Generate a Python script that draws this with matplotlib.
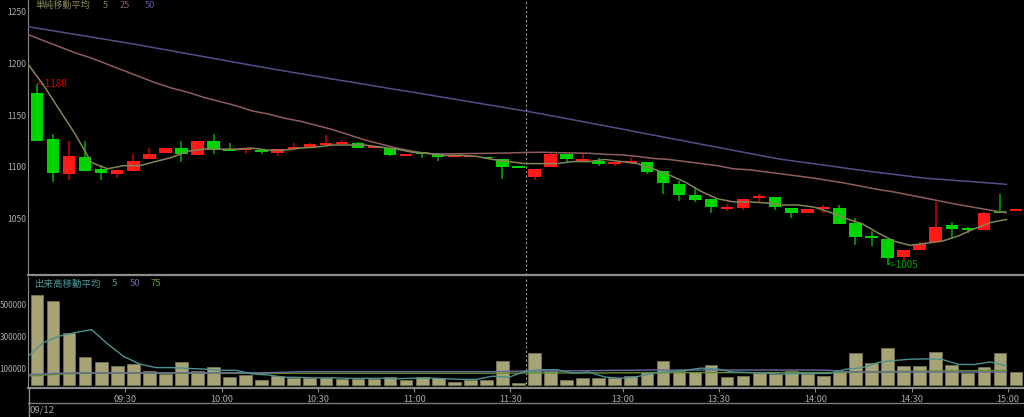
import matplotlib.pyplot as plt
from matplotlib.lines import Line2D
import numpy as np

plt.rcParams['font.family'] = ['Liberation Sans Narrow', 'Noto Sans CJK JP', 'DejaVu Sans']

# 5-minute bars, 09:00-11:30 then 12:30-15:00 (index positions)
opens = [1171, 1127, 1093, 1109, 1098, 1093, 1096, 1107, 1113, 1118,
         1111, 1125, 1117, 1116, 1116, 1113, 1117, 1119, 1121, 1122,
         1123, 1118, 1118, 1110, 1114, 1112, 1109, 1109, 1109, 1107,
         1099.5, 1090, 1100, 1112, 1106, 1106, 1103, 1104, 1105, 1096,
         1083, 1073, 1069, 1059, 1060, 1070, 1071, 1060, 1055, 1059,
         1060, 1046, 1033, 1030, 1013, 1019, 1027, 1044, 1039, 1039,
         1056, 1057.5]
highs = [1180, 1132, 1125, 1125, 1102, 1097, 1112, 1118, 1118, 1125,
         1125, 1132, 1123, 1118, 1117, 1117, 1123, 1123, 1131, 1126,
         1124, 1119, 1118, 1112, 1114, 1112, 1110, 1110, 1109, 1107,
         1099.5, 1098, 1113, 1112, 1112, 1108, 1104, 1108, 1105, 1096,
         1086, 1080, 1069, 1064, 1069, 1074, 1071, 1060, 1059, 1063,
         1063, 1050, 1038, 1030, 1019, 1027, 1066, 1047, 1042, 1056,
         1074, 1058]
lows = [1125, 1085, 1087, 1096, 1087, 1089, 1096, 1107, 1113, 1105,
        1111, 1112, 1115, 1112, 1112, 1110, 1117, 1119, 1121, 1121,
        1118, 1118, 1110, 1110, 1108, 1106, 1109, 1109, 1107, 1088,
        1099, 1087, 1100, 1105, 1106, 1101, 1101, 1104, 1093, 1074,
        1067, 1066, 1055, 1057, 1058, 1066, 1058, 1050, 1055, 1055,
        1045, 1024, 1023, 1005, 1009, 1019, 1027, 1031, 1036, 1039,
        1055, 1057.5]
closes = [1125, 1094, 1110, 1096, 1094, 1097, 1106, 1112, 1118, 1112,
          1125, 1116, 1115, 1118, 1114, 1117, 1118, 1122, 1123, 1123,
          1118, 1119, 1111, 1112, 1112, 1109, 1110, 1110, 1108, 1100,
          1099, 1098, 1112, 1107, 1107, 1103, 1104, 1105, 1095, 1084,
          1073, 1068, 1061, 1060, 1069, 1072, 1061, 1055, 1059, 1060,
          1045, 1032, 1031, 1012, 1019, 1025, 1042, 1040, 1038.5, 1055,
          1055.5, 1058]

ma5 = [1200, 1179, 1155, 1131, 1104, 1098, 1101, 1101, 1105, 1109,
       1115, 1117, 1117, 1117, 1118, 1116, 1116, 1118, 1119, 1121,
       1121, 1121, 1119, 1117, 1114, 1113, 1111, 1111, 1110, 1107,
       1105, 1103, 1103, 1103, 1105, 1105, 1107, 1105, 1103, 1098,
       1092, 1085, 1076, 1069, 1066, 1066, 1065, 1063, 1063, 1061,
       1056, 1050, 1045, 1036, 1028, 1024, 1026, 1028, 1033, 1040,
       1046, 1049]
ma25 = [1228, 1222, 1216, 1210, 1205, 1199, 1193, 1187, 1181, 1176,
        1172, 1167, 1163, 1159, 1154, 1151, 1147, 1144, 1140, 1136,
        1131, 1126, 1122, 1118, 1115, 1112.5, 1112.4, 1112.6, 1112.8, 1113,
        1113.3, 1113.8, 1114, 1113.6, 1113.3, 1113, 1112, 1111.5, 1110, 1108,
        1107, 1105, 1103, 1101, 1098, 1097, 1095, 1093, 1091, 1089,
        1086.5, 1084, 1081, 1078, 1075.6, 1072.5, 1069.5, 1066.4, 1063.3, 1060.7,
        1058, 1055.5]
ma50 = [1235.5, 1233, 1230.4, 1227.9, 1225.4, 1222.8, 1220.3, 1217.6, 1214.8, 1212,
        1209.2, 1206.4, 1203.6, 1200.8, 1198, 1195.3, 1192.6, 1190, 1187.4, 1184.8,
        1182.3, 1179.7, 1177.1, 1174.5, 1172.1, 1169.5, 1166.9, 1164.3, 1161.7, 1159.1,
        1156.5, 1153.9, 1151.2, 1148.3, 1145.4, 1142.4, 1139.5, 1136.6, 1133.5, 1130.6,
        1127.6, 1124.7, 1121.7, 1118.8, 1115.8, 1112.9, 1109.9, 1107.1, 1105, 1102.9,
        1100.8, 1098.6, 1096.5, 1094.5, 1092.6, 1090.7, 1088.8, 1087.7, 1086.5, 1085.4,
        1084.2, 1083]

volume = [558, 517, 319, 173, 138, 115, 127, 84, 63, 138,
          86, 107, 48, 59, 28, 53, 38, 42, 42, 34,
          36, 34, 48, 28, 48, 42, 14, 28, 26, 148,
          7, 194, 84, 28, 40, 40, 38, 50, 76, 148,
          86, 80, 121, 45, 53, 73, 63, 86, 63, 55,
          76, 194, 132, 227, 115, 115, 204, 119, 73, 110,
          194, 80]  # thousands
vma5 = [171, 261, 301, 323, 341, 252, 174, 127, 105, 105,
        100, 96, 88, 88, 66, 59, 45, 44, 41, 42,
        38, 38, 39, 36, 39, 40, 36, 32, 32, 52,
        45, 81, 92, 92, 71, 77, 46, 39, 49, 70,
        80, 88, 102, 96, 77, 74, 71, 64, 68, 68,
        69, 95, 104, 137, 149, 157, 159, 156, 125, 124,
        140, 115]
vma50 = [62, 66, 70, 73, 73, 73, 73, 73, 73, 73,
         73, 73, 73, 73, 73, 74, 76, 80, 80, 80,
         80, 80, 80, 80, 80, 80, 80, 80, 80, 80,
         82, 84, 84, 84, 85, 86, 87, 88, 89, 90,
         90, 90, 90, 90, 90, 90, 90, 90, 90, 90,
         88, 80, 78, 77, 77, 77, 77, 77, 77, 77,
         77, 77]
vma75 = [53, 58, 64, 68, 70, 70, 70, 70, 70, 70,
         70, 70, 70, 70, 70, 70, 70, 70, 70, 70,
         70, 70, 70, 70, 70, 70, 70, 70, 70, 70,
         70, 71, 72, 72, 72, 72, 72, 73, 73, 74,
         74, 74, 74, 74, 74, 74, 74, 74, 74, 74,
         74, 75, 77, 79, 81, 82, 83, 84, 85, 86,
         86, 86]

time_ticks = [5.5, 11.5, 17.5, 23.5, 29.5, 36.5, 42.5, 48.5, 54.5, 60.5]
time_labels = ['09:30', '10:00', '10:30', '11:00', '11:30',
               '13:00', '13:30', '14:00', '14:30', '15:00']
price_ticks = [1050, 1100, 1150, 1200, 1250]
vol_ticks = [100000, 300000, 500000]

BG = 'black'
GRID = '#8c8c8c'
TXT = '#a8a8a8'
UP, UP_W = '#ff1a1a', '#c00000'
DN, DN_W = '#00d400', '#00a000'

W, H = 1024, 417
fig = plt.figure(figsize=(W / 100, H / 100), dpi=100, facecolor=BG)
ax = fig.add_axes([28 / W, 1 - 275 / H, (W - 28) / W, 275 / H], facecolor=BG)
axv = fig.add_axes([28 / W, 1 - 388 / H, (W - 28) / W, 111 / H], facecolor=BG)

x = np.arange(len(closes))
o, h, l, c = map(np.array, (opens, highs, lows, closes))
up = c >= o
body_lo = np.minimum(o, c)
body_h = np.maximum(np.abs(c - o), 1.8)

ax.vlines(x[up], l[up], h[up], color=UP_W, lw=1.2, zorder=2)
ax.vlines(x[~up], l[~up], h[~up], color=DN_W, lw=1.2, zorder=2)
ax.bar(x[up], body_h[up], 0.78, bottom=body_lo[up], color=UP, zorder=3)
ax.bar(x[~up], body_h[~up], 0.78, bottom=body_lo[~up], color=DN, zorder=3)

xm = x - 0.6
ax.plot(xm, ma50, color='#50508a', lw=1.1, zorder=4)
ax.plot(xm, ma25, color='#8f5d5d', lw=1.1, zorder=4)
ax.plot(xm, ma5, color='#85855a', lw=1.1, zorder=4)

ax.text(0, highs[0], '<-1180', color='#e00000', fontsize=7, ha='left', va='center')
ax.text(53, lows[53], '<-1005', color='#00a800', fontsize=7, ha='left', va='center')

vol = np.array(volume) * 1000
axv.bar(x, vol, 0.79, color='#a6a376', edgecolor='#7d7b58', lw=0.5, zorder=2)
axv.plot(xm, np.array(vma75) * 1000, color='#5d8f2f', lw=1.0, zorder=3)
axv.plot(xm, np.array(vma50) * 1000, color='#6a6a9c', lw=1.0, zorder=3)
axv.plot(xm, np.array(vma5) * 1000, color='#4f9090', lw=1.0, zorder=4)

for a in (ax, axv):
    a.set_xlim(-0.56, 61.5)
    a.axvline(30.5, color='#9a9a9a', lw=0.8, ls=(0, (2, 2)), zorder=1)
    for s in ('top', 'right'):
        a.spines[s].set_visible(False)
    a.spines['left'].set_color(GRID)
    a.spines['bottom'].set_color(GRID)
    a.spines['bottom'].set_linewidth(1.6)
    a.tick_params(axis='y', length=0, pad=1.5, colors=TXT, labelsize=6.2)

ax.set_ylim(995.3, 1261.2)
ax.set_yticks(price_ticks)
ax.set_xticks([])

axv.set_ylim(-21700, 667700)
axv.set_yticks(vol_ticks)
axv.set_yticklabels([str(v) for v in vol_ticks])
axv.tick_params(axis='y', labelsize=5.9, pad=1)
axv.set_xticks(time_ticks)
axv.set_xticklabels(time_labels)
axv.tick_params(axis='x', length=3, color=GRID, colors=TXT, labelsize=6.6, pad=2)

# legends
ty = 1 - 5 / H
fig.text(35 / W, ty, '単純移動平均', color='#85855a', fontsize=6.6, va='center')
fig.text(103 / W, ty, '5', color='#85855a', fontsize=6.6, va='center')
fig.text(120 / W, ty, '25', color='#8f5d5d', fontsize=6.6, va='center')
fig.text(145 / W, ty, '50', color='#5c5c9a', fontsize=6.6, va='center')
fig.text(35 / W, 1 - 284 / H, '出来高移動平均', color='#4f9a9a', fontsize=6.8, va='center')
fig.text(112 / W, 1 - 284 / H, '5', color='#4f9a9a', fontsize=6.8, va='center')
fig.text(130 / W, 1 - 284 / H, '50', color='#6a6aa8', fontsize=6.8, va='center')
fig.text(151 / W, 1 - 284 / H, '75', color='#6a9a30', fontsize=6.8, va='center')

# date strip
fig.add_artist(Line2D([28 / W, 1], [1 - 403 / H] * 2, transform=fig.transFigure, color='#7a7a7a', lw=1))
fig.add_artist(Line2D([28.5 / W] * 2, [0, 1 - 388 / H], transform=fig.transFigure, color=GRID, lw=1))
fig.text(29 / W, 1 - 410 / H, '09/12', color=TXT, fontsize=6.8, va='center')

fig.savefig('out.png', dpi=100, facecolor=BG)
